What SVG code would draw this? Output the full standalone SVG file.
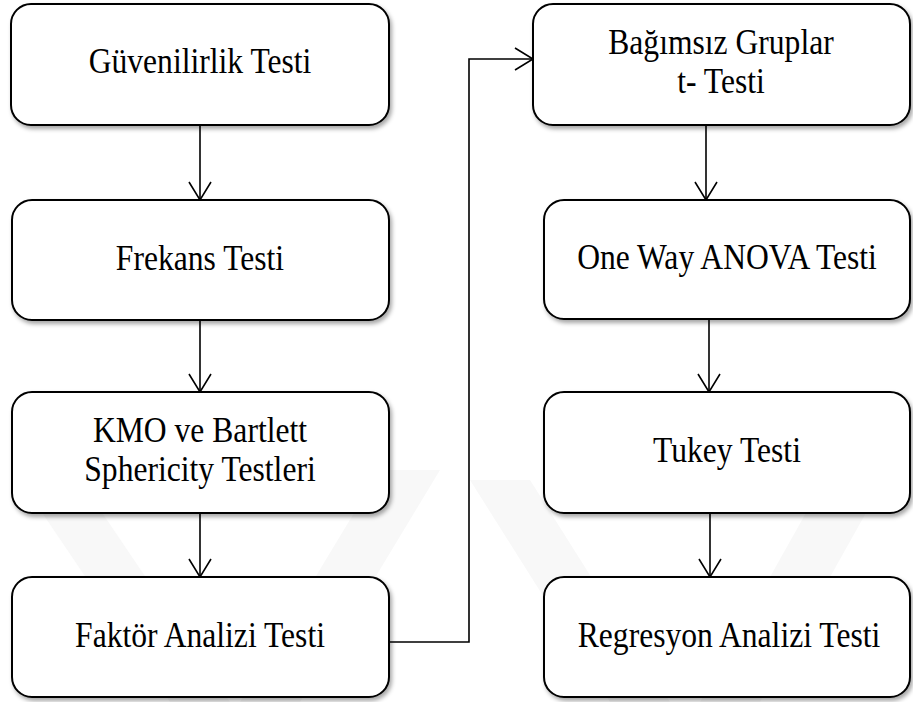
<svg xmlns="http://www.w3.org/2000/svg" width="913" height="702" viewBox="0 0 913 702">
  <style>
    .box { fill: #ffffff; stroke: #000000; stroke-width: 2; filter: url(#shadow); }
    .conn { fill: none; stroke: #000000; stroke-width: 1.6; marker-end: url(#arrow); }
    .wm { fill: #f8f8f8; }
    text { font-family: "Times New Roman", "Liberation Serif", Tinos, "DejaVu Serif", serif; font-size: 31.6px; text-anchor: middle; fill: #000000; }
  </style>
  <defs>
    <filter id="shadow" x="-10%" y="-10%" width="125%" height="130%">
      <feDropShadow dx="2" dy="3" stdDeviation="2" flood-color="#000000" flood-opacity="0.35"/>
    </filter>
    <marker id="arrow" markerWidth="22" markerHeight="26" refX="19" refY="12" orient="auto" markerUnits="userSpaceOnUse">
      <path d="M1,1 L19,12 L1,23" fill="none" stroke="#000000" stroke-width="1.6"/>
    </marker>
  </defs>
  <rect width="913" height="702" fill="#ffffff"/>
  <g id="watermark">
    <polygon class="wm" points="20,480 80,480 230,702 170,702"/>
    <polygon class="wm" points="380,470 440,470 300,702 240,702"/>
    <polygon class="wm" points="470,480 530,480 670,702 610,702"/>
    <polygon class="wm" points="830,470 890,470 760,702 700,702"/>
  </g>
  <g id="connectors">
    <line class="conn" x1="200" y1="125" x2="200" y2="200"/>
    <line class="conn" x1="200" y1="320" x2="200" y2="392"/>
    <line class="conn" x1="200" y1="513" x2="200" y2="577"/>
    <polyline class="conn" points="389,642 469,642 469,59 533,59"/>
    <line class="conn" x1="706" y1="125" x2="706" y2="200"/>
    <line class="conn" x1="709" y1="319" x2="709" y2="392"/>
    <line class="conn" x1="710" y1="513" x2="710" y2="577"/>
  </g>
  <g id="guvenilirlik">
    <rect class="box" x="11" y="4" width="378" height="121" rx="20"/>
    <text transform="translate(200,73) scale(1,1.1)">Güvenilirlik Testi</text>
  </g>
  <g id="frekans">
    <rect class="box" x="12" y="200" width="377" height="120" rx="20"/>
    <text transform="translate(200,270) scale(1,1.1)">Frekans Testi</text>
  </g>
  <g id="kmo">
    <rect class="box" x="12" y="392" width="377" height="121" rx="20"/>
    <text transform="translate(200,442) scale(1,1.1)"><tspan x="0" y="0">KMO ve Bartlett</tspan><tspan x="0" y="35.2">Sphericity Testleri</tspan></text>
  </g>
  <g id="faktor">
    <rect class="box" x="12" y="577" width="377" height="120" rx="20"/>
    <text transform="translate(200,647) scale(1,1.1)">Faktör Analizi Testi</text>
  </g>
  <g id="bagimsiz">
    <rect class="box" x="533" y="4" width="377" height="121" rx="20"/>
    <text transform="translate(721,54) scale(1,1.1)"><tspan x="0" y="0">Bağımsız Gruplar</tspan><tspan x="0" y="35.2">t- Testi</tspan></text>
  </g>
  <g id="oneway">
    <rect class="box" x="544" y="200" width="366" height="119" rx="20"/>
    <text transform="translate(727,269) scale(1,1.1)">One Way ANOVA Testi</text>
  </g>
  <g id="tukey">
    <rect class="box" x="544" y="392" width="366" height="121" rx="20"/>
    <text transform="translate(727,462) scale(1,1.1)">Tukey Testi</text>
  </g>
  <g id="regresyon">
    <rect class="box" x="544" y="577" width="366" height="120" rx="20"/>
    <text transform="translate(729,647) scale(1,1.1)">Regresyon Analizi Testi</text>
  </g>
</svg>
